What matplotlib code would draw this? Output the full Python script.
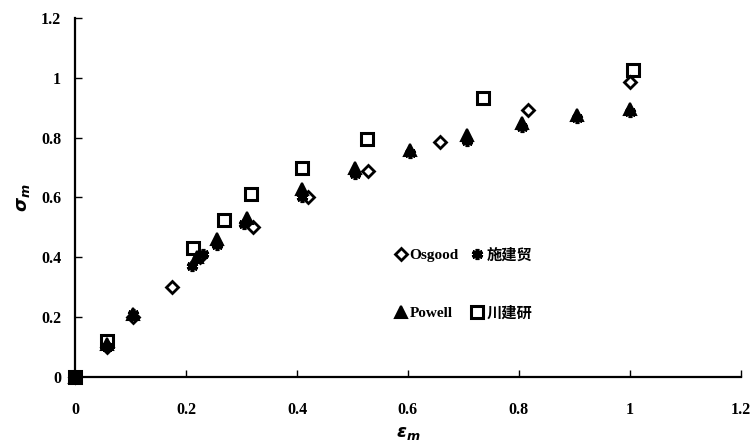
import matplotlib
matplotlib.use('Agg')
import matplotlib.pyplot as plt

plt.rcParams['font.family'] = ['Liberation Serif', 'Noto Sans CJK SC']
plt.rcParams['font.weight'] = 'bold'

# strain / stress ratios
osgood_x = [0, 0.058, 0.105, 0.175, 0.225, 0.32, 0.42, 0.528, 0.658, 0.816, 1.0]
osgood_y = [0, 0.10, 0.20, 0.30, 0.40, 0.50, 0.60, 0.69, 0.786, 0.893, 0.985]

shi_x = [0, 0.058, 0.105, 0.21, 0.23, 0.256, 0.305, 0.41, 0.505, 0.604, 0.706, 0.805, 0.905, 1.0]
shi_y = [0, 0.10, 0.21, 0.37, 0.41, 0.44, 0.51, 0.60, 0.68, 0.75, 0.79, 0.836, 0.865, 0.885]

powell_x = [0, 0.058, 0.105, 0.22, 0.256, 0.31, 0.41, 0.505, 0.604, 0.706, 0.805, 0.905, 1.0]
powell_y = [0, 0.11, 0.21, 0.40, 0.46, 0.53, 0.63, 0.70, 0.76, 0.81, 0.85, 0.875, 0.895]

cjy_x = [0, 0.058, 0.213, 0.268, 0.317, 0.41, 0.527, 0.735, 1.005]
cjy_y = [0, 0.12, 0.43, 0.525, 0.61, 0.70, 0.796, 0.933, 1.025]

ticks = [0, 0.2, 0.4, 0.6, 0.8, 1, 1.2]
tick_labels = ['0', '0.2', '0.4', '0.6', '0.8', '1', '1.2']

fig = plt.figure(figsize=(7.55, 4.46), dpi=100)
ax = fig.add_axes([0.0993, 0.1547, 0.882, 0.805])

ms = 8
h_cjy, = ax.plot(cjy_x, cjy_y, 's', ms=ms, mfc='white', mec='black', mew=2.2, ls='none', label='川建研', clip_on=False)
h_osg, = ax.plot(osgood_x, osgood_y, 'D', ms=6.5, mfc='white', mec='black', mew=2, ls='none', label='Osgood', clip_on=False)
h_pow, = ax.plot(powell_x, powell_y, '^', ms=ms, mfc='black', mec='black', mew=1.5, ls='none', label='Powell', clip_on=False)
h_shi, = ax.plot(shi_x, shi_y, marker=(6, 2, 0), ms=ms, mec='black', mew=2.6, ls='none', label='施建贸', clip_on=False)

ax.set_xlim(0, 1.2)
ax.set_ylim(0, 1.2)
ax.set_xticks(ticks)
ax.set_xticklabels(tick_labels)
ax.set_yticks(ticks)
ax.set_yticklabels(tick_labels)
ax.tick_params(direction='in', length=5, width=1, labelsize=11.5)
ax.tick_params(axis='x', pad=18)
ax.tick_params(axis='y', pad=10)

for s in ['top', 'right']:
    ax.spines[s].set_visible(False)
for s in ['left', 'bottom']:
    ax.spines[s].set_linewidth(1.6)

ax.set_xlabel(r'$\varepsilon_m$', fontsize=13, labelpad=5)
ax.set_ylabel(r'$\sigma_m$', fontsize=13, labelpad=6)

leg = ax.legend(handles=[h_osg, h_pow, h_shi, h_cjy], ncol=2, frameon=False,
                loc='center left', bbox_to_anchor=(0.466, 0.258),
                handletextpad=0.1, columnspacing=0.7, labelspacing=2.9,
                handlelength=1.0, borderpad=0, prop={'size': 11, 'weight': 'bold'})

fig.savefig('out.png', dpi=100)
